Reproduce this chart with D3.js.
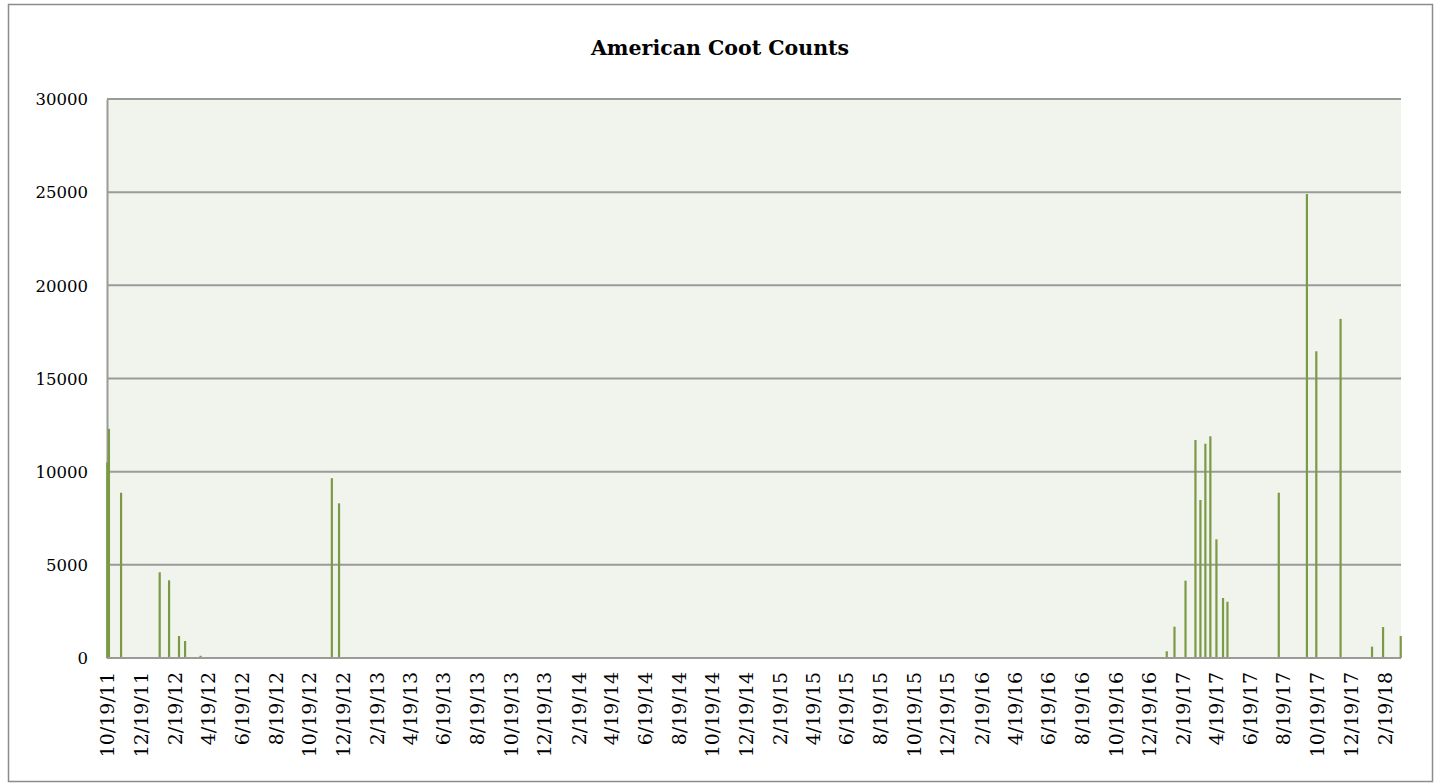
<!DOCTYPE html>
<html>
<head>
<meta charset="utf-8">
<script src="https://cdn.jsdelivr.net/npm/d3@7"></script>
<style>
  body { margin: 0; background: #fff; }
  text { font-family: 'DejaVu Serif', 'Liberation Serif', serif; fill: #000; }
</style>
</head>
<body>
<div class="container"></div>
<script>
// survey dates and counts
const dates = [
  '10/19/11', '10/22/11', '11/13/11', '1/22/12', '2/8/12', '2/26/12', '3/8/12', '4/5/12',
  '11/29/12', '12/12/12',
  '1/20/17', '2/3/17', '2/23/17', '3/13/17', '3/22/17', '3/31/17', '4/9/17', '4/20/17',
  '5/2/17', '5/10/17', '8/11/17', '10/1/17', '10/18/17', '12/1/17', '1/27/18', '2/16/18', '3/20/18'
]
const counts = [
  10500, 12300, 8870, 4600, 4170, 1180, 910, 120,
  9650, 8300,
  360, 1680, 4150, 11700, 8480, 11500, 11900, 6370,
  3220, 3020, 8870, 24900, 16460, 18200, 610, 1660, 1180
]
const tickLabels = [
  '10/19/11', '12/19/11', '2/19/12', '4/19/12', '6/19/12', '8/19/12', '10/19/12', '12/19/12',
  '2/19/13', '4/19/13', '6/19/13', '8/19/13', '10/19/13', '12/19/13',
  '2/19/14', '4/19/14', '6/19/14', '8/19/14', '10/19/14', '12/19/14',
  '2/19/15', '4/19/15', '6/19/15', '8/19/15', '10/19/15', '12/19/15',
  '2/19/16', '4/19/16', '6/19/16', '8/19/16', '10/19/16', '12/19/16',
  '2/19/17', '4/19/17', '6/19/17', '8/19/17', '10/19/17', '12/19/17', '2/19/18'
]
const yTicks = [0, 5000, 10000, 15000, 20000, 25000, 30000]

const parse = d3.timeParse('%m/%d/%y')
const data = dates.map((d, i) => ({ date: parse(d), value: counts[i] }))

const w = 1440
const h = 784
const plotLeft = 107
const plotRight = 1401
const plotTop = 99
const plotBottom = 658

const svg = d3.select('.container')
  .append('svg')
  .attr('width', w)
  .attr('height', h)

// outer chart frame
svg.append('rect')
  .attr('x', 8.5)
  .attr('y', 4.5)
  .attr('width', 1424)
  .attr('height', 777)
  .attr('fill', '#fff')
  .attr('stroke', '#8c8c8c')
  .attr('stroke-width', 1.5)

svg.append('rect')
  .attr('x', plotLeft)
  .attr('y', plotTop)
  .attr('width', plotRight - plotLeft)
  .attr('height', plotBottom - plotTop)
  .attr('fill', '#f1f4ed')

const first = data[0].date
const last = data[data.length - 1].date
const xScale = d3.scaleTime()
  .domain([d3.timeHour.offset(first, -12), d3.timeHour.offset(last, 12)])
  .range([plotLeft, plotRight])

const yScale = d3.scaleLinear()
  .domain([0, 30000])
  .range([plotBottom, plotTop])

// gridlines
svg.append('g')
  .selectAll('line')
  .data(yTicks)
  .enter()
  .append('line')
  .attr('x1', plotLeft)
  .attr('x2', plotRight)
  .attr('y1', d => yScale(d))
  .attr('y2', d => yScale(d))
  .attr('stroke', '#9a9a9a')
  .attr('stroke-width', 2)

const yAxis = d3.axisLeft(yScale)
  .tickValues(yTicks)
  .tickFormat(d3.format('d'))
  .tickSize(0)
  .tickPadding(19)

svg.append('g')
  .attr('transform', `translate(${plotLeft}, 0)`)
  .call(yAxis)
  .call(g => g.select('.domain').attr('stroke', '#9a9a9a').attr('stroke-width', 2))
  .call(g => g.selectAll('text')
    .attr('font-family', "'DejaVu Serif', serif")
    .attr('font-size', 16.5)
    .attr('dy', '0.35em'))

const xAxis = d3.axisBottom(xScale)
  .tickValues(tickLabels.map(parse))
  .tickFormat(d3.timeFormat('%-m/%-d/%y'))
  .tickSize(0)

svg.append('g')
  .attr('transform', `translate(0, ${plotBottom})`)
  .call(xAxis)
  .call(g => g.select('.domain').remove())
  .call(g => g.selectAll('text')
    .attr('font-family', "'DejaVu Serif', serif")
    .attr('font-size', 19)
    .attr('text-anchor', 'end')
    .attr('transform', 'rotate(-90)')
    .attr('x', -14)
    .attr('y', 0)
    .attr('dy', '0.35em'))

svg.selectAll('rect.bar')
  .data(data)
  .enter()
  .append('rect')
  .attr('class', 'bar')
  .attr('x', d => xScale(d.date) - 1.1)
  .attr('width', 2.2)
  .attr('y', d => yScale(d.value))
  .attr('height', d => plotBottom - yScale(d.value))
  .attr('fill', '#7b9a46')

// x axis line on top of bars
svg.append('line')
  .attr('x1', plotLeft)
  .attr('x2', plotRight)
  .attr('y1', plotBottom)
  .attr('y2', plotBottom)
  .attr('stroke', '#9a9a9a')
  .attr('stroke-width', 2)

svg.append('text')
  .text('American Coot Counts')
  .attr('x', 720)
  .attr('y', 55)
  .attr('text-anchor', 'middle')
  .attr('font-family', "'DejaVu Serif', serif")
  .attr('font-weight', 'bold')
  .attr('font-size', 20.5)
</script>
</body>
</html>
